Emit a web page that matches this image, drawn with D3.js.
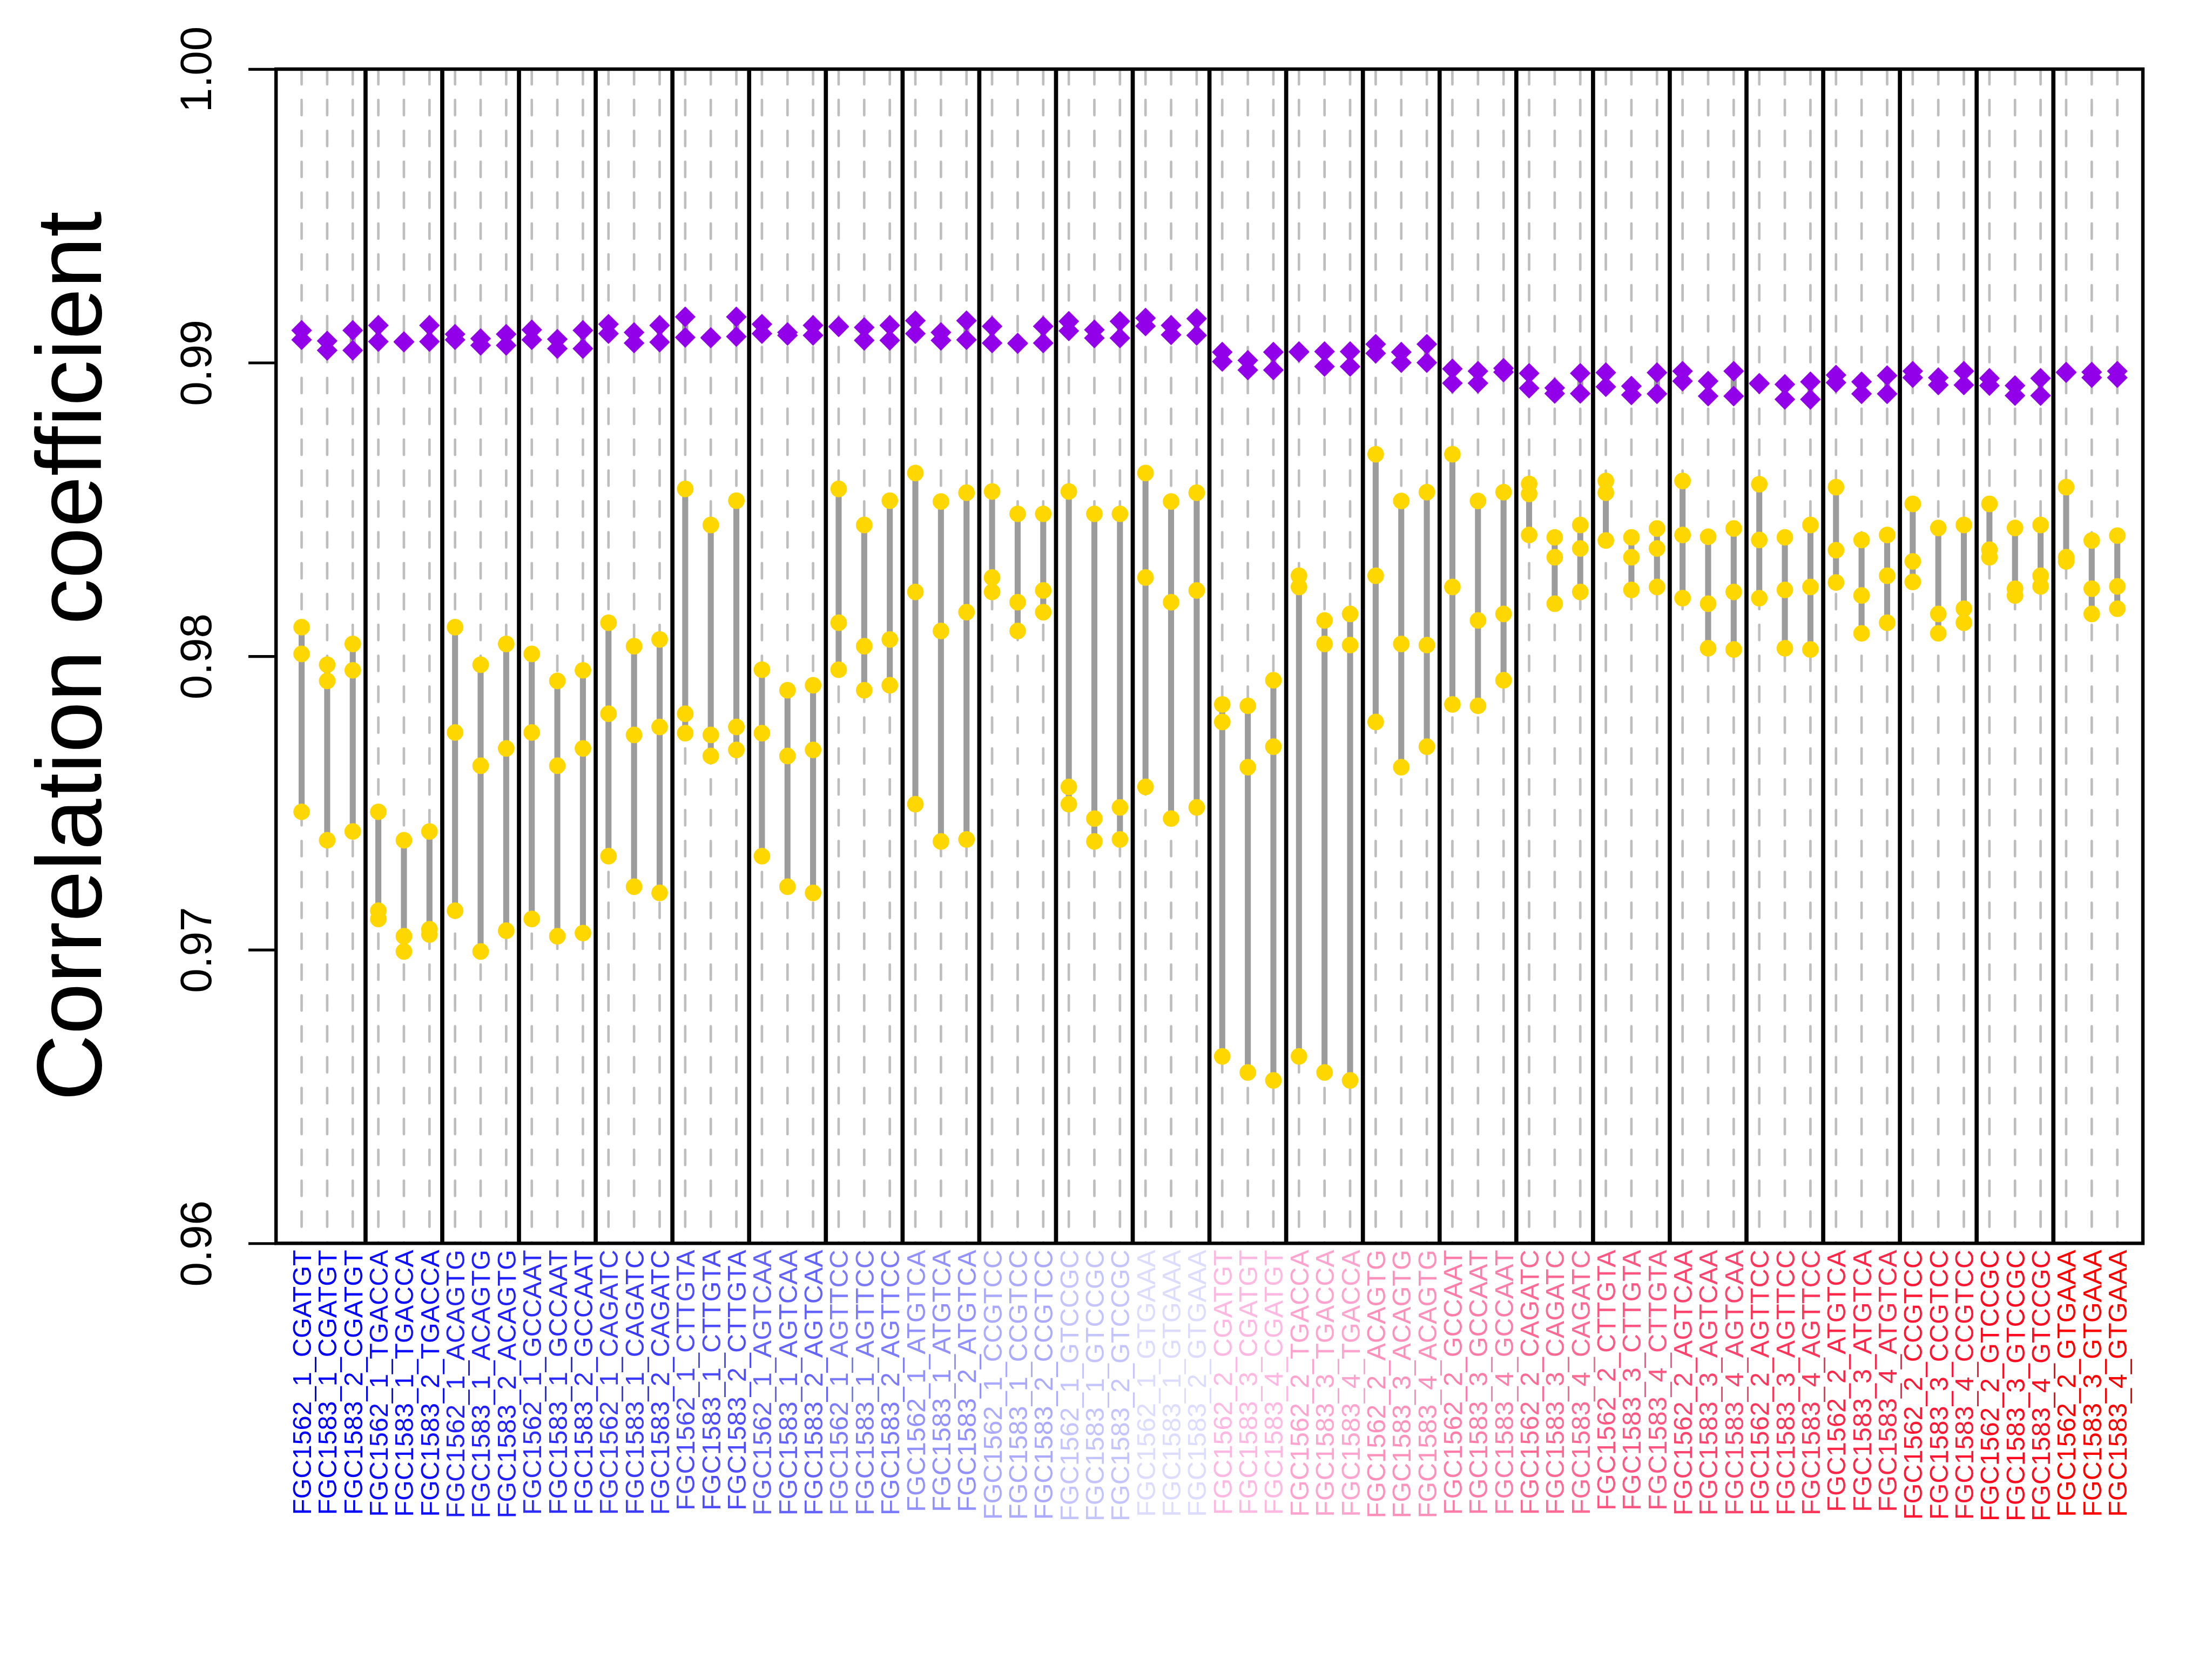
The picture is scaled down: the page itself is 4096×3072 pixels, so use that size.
<!DOCTYPE html>
<html>
<head>
<meta charset="utf-8">
<script src="https://cdn.jsdelivr.net/npm/d3@7"></script>
<style>
  html, body { margin: 0; padding: 0; background: #ffffff; }
  svg { display: block; }
</style>
</head>
<body>
<script>
// ---------------- DATA ----------------
const barcodes = ["CGATGT","TGACCA","ACAGTG","GCCAAT","CAGATC","CTTGTA",
                  "AGTCAA","AGTTCC","ATGTCA","CCGTCC","GTCCGC","GTGAAA"];
const samplesSet1 = ["FGC1562_1","FGC1583_1","FGC1583_2"];
const samplesSet2 = ["FGC1562_2","FGC1583_3","FGC1583_4"];

const groupColors = ["#0000FF","#0D0DFF","#1F1FFF","#2C2CFF","#3B3BFF","#4D4DFF",
                     "#6363FF","#7B7BFF","#9191FF","#AAAAFF","#C4C4FF","#DCDCFF",
                     "#FFB8E2","#FFA3CF","#FF90BC","#FF7DA8","#FF6A95","#FF5782",
                     "#FF456E","#FF365A","#FF2747","#FF1833","#FF0A1F","#FF0000"];

const yTicks = [0.96, 0.97, 0.98, 0.99, 1.00];

// purple diamonds (two values per column)
const purpleHi = [0.99110,0.99074,0.99110,0.99127,0.99072,0.99127,0.99097,0.99082,0.99097,0.99112,0.99080,0.99110,
                  0.99131,0.99103,0.99127,0.99156,0.99086,0.99156,0.99131,0.99103,0.99127,0.99124,0.99120,0.99127,
                  0.99143,0.99103,0.99143,0.99124,0.99067,0.99124,0.99141,0.99112,0.99141,0.99152,0.99127,0.99150,
                  0.99036,0.99008,0.99036,0.99038,0.99038,0.99038,0.99063,0.99036,0.99063,0.98979,0.98971,0.98981,
                  0.98964,0.98914,0.98964,0.98966,0.98920,0.98966,0.98971,0.98937,0.98971,0.98930,0.98926,0.98935,
                  0.98958,0.98935,0.98956,0.98971,0.98949,0.98971,0.98947,0.98922,0.98947,0.98968,0.98968,0.98971];
const purpleLo = [0.99078,0.99042,0.99042,0.99072,0.99070,0.99072,0.99078,0.99059,0.99059,0.99078,0.99048,0.99048,
                  0.99099,0.99067,0.99070,0.99086,0.99084,0.99089,0.99099,0.99093,0.99093,0.99122,0.99076,0.99076,
                  0.99099,0.99076,0.99078,0.99067,0.99065,0.99067,0.99108,0.99084,0.99084,0.99125,0.99095,0.99093,
                  0.99004,0.98975,0.98975,0.99036,0.98987,0.98987,0.99032,0.99000,0.99000,0.98930,0.98930,0.98968,
                  0.98913,0.98895,0.98895,0.98918,0.98890,0.98894,0.98937,0.98886,0.98886,0.98928,0.98875,0.98875,
                  0.98932,0.98894,0.98894,0.98949,0.98924,0.98924,0.98922,0.98888,0.98888,0.98966,0.98949,0.98949];

// gold points (three values per column)
const goldHi = [0.98099,0.97971,0.98042,0.97470,0.97373,0.97403,0.98099,0.97971,0.98042,0.98008,0.97916,0.97952,
                0.98114,0.98034,0.98057,0.98570,0.98447,0.98530,0.97954,0.97884,0.97901,0.98570,0.98447,0.98530,
                0.98624,0.98527,0.98557,0.98561,0.98485,0.98485,0.98561,0.98485,0.98485,0.98624,0.98527,0.98557,
                0.97836,0.97831,0.97918,0.98274,0.98122,0.98144,0.98688,0.98529,0.98559,0.98688,0.98529,0.98559,
                0.98587,0.98405,0.98447,0.98597,0.98405,0.98435,0.98597,0.98407,0.98435,0.98586,0.98405,0.98447,
                0.98576,0.98396,0.98413,0.98519,0.98437,0.98447,0.98519,0.98437,0.98447,0.98576,0.98394,0.98411];
const goldMid = [0.98008,0.97916,0.97952,0.97133,0.97046,0.97070,0.97740,0.97627,0.97686,0.97740,0.97627,0.97686,
                 0.97804,0.97732,0.97759,0.97804,0.97732,0.97759,0.97738,0.97660,0.97681,0.98114,0.98034,0.98057,
                 0.98219,0.98086,0.98150,0.98268,0.98184,0.98224,0.97555,0.97447,0.97485,0.98268,0.98184,0.98224,
                 0.97776,0.97622,0.97692,0.98236,0.98042,0.98038,0.98274,0.98042,0.98038,0.98236,0.98122,0.98144,
                 0.98553,0.98337,0.98367,0.98557,0.98337,0.98367,0.98413,0.98179,0.98219,0.98396,0.98226,0.98236,
                 0.98361,0.98207,0.98274,0.98323,0.98144,0.98162,0.98363,0.98230,0.98274,0.98337,0.98230,0.98238];
const goldLo = [0.97470,0.97373,0.97403,0.97105,0.96994,0.97052,0.97133,0.96994,0.97065,0.97105,0.97046,0.97057,
                0.97319,0.97215,0.97194,0.97738,0.97660,0.97681,0.97319,0.97215,0.97194,0.97954,0.97884,0.97901,
                0.97496,0.97369,0.97376,0.98219,0.98086,0.98150,0.97496,0.97369,0.97376,0.97555,0.97447,0.97485,
                0.96637,0.96582,0.96555,0.96637,0.96582,0.96555,0.97776,0.97622,0.97692,0.97836,0.97831,0.97918,
                0.98413,0.98179,0.98219,0.98394,0.98226,0.98236,0.98198,0.98027,0.98023,0.98198,0.98027,0.98023,
                0.98251,0.98078,0.98114,0.98253,0.98078,0.98114,0.98337,0.98207,0.98238,0.98323,0.98144,0.98162];

// ---------------- BUILD ----------------
const labels = [];
const groupOf = [];
[samplesSet1, samplesSet2].forEach((set, si) => {
  barcodes.forEach((bc, bi) => {
    set.forEach(s => { labels.push(s + "_" + bc); groupOf.push(si * barcodes.length + bi); });
  });
});
const n = labels.length;
const cols = d3.range(n).map(i => ({
  idx: i + 1, label: labels[i], color: groupColors[groupOf[i]],
  pHi: purpleHi[i], pLo: purpleLo[i],
  gold: [goldHi[i], goldMid[i], goldLo[i]]
}));

const W = 4800, H = 3600;
const L = 599, R = 4650, T = 150, B = 2698;
const font = "'Liberation Sans', Arial, Helvetica, sans-serif";

const svg = d3.select("body").append("svg")
  .attr("width", 4096).attr("height", 3072)
  .attr("viewBox", `0 0 ${W} ${H}`);
svg.append("rect").attr("width", W).attr("height", H).attr("fill", "#fff");

const x = d3.scaleLinear().domain([0, n + 1]).range([L, R]);
const y = d3.scaleLinear().domain([0.96, 1.00]).range([B, T]);

svg.append("clipPath").attr("id", "plotclip")
  .append("rect").attr("x", L).attr("y", T).attr("width", R - L).attr("height", B - T);
const plot = svg.append("g").attr("clip-path", "url(#plotclip)");

// dashed guides
plot.append("g").selectAll("line").data(cols).join("line")
  .attr("x1", d => x(d.idx)).attr("x2", d => x(d.idx))
  .attr("y1", T).attr("y2", B)
  .attr("stroke", "#BEBEBE").attr("stroke-width", 5.5)
  .attr("stroke-dasharray", "33,34").attr("stroke-linecap", "round");

// group dividers
const dividers = d3.range(1, 2 * barcodes.length).map(g => g * 3 + 0.5);
plot.append("g").selectAll("line").data(dividers).join("line")
  .attr("x1", d => x(d)).attr("x2", d => x(d))
  .attr("y1", T).attr("y2", B)
  .attr("stroke", "#000").attr("stroke-width", 9);

// gold segments
plot.append("g").selectAll("line").data(cols).join("line")
  .attr("x1", d => x(d.idx)).attr("x2", d => x(d.idx))
  .attr("y1", d => y(d3.max(d.gold))).attr("y2", d => y(d3.min(d.gold)))
  .attr("stroke", "#9C9C9C").attr("stroke-width", 13);
// purple segments
plot.append("g").selectAll("line").data(cols).join("line")
  .attr("x1", d => x(d.idx)).attr("x2", d => x(d.idx))
  .attr("y1", d => y(d.pHi)).attr("y2", d => y(d.pLo))
  .attr("stroke", "#9C9C9C").attr("stroke-width", 13);

// gold points
const goldPts = cols.flatMap(d => d.gold.map(v => ({ idx: d.idx, v })));
plot.append("g").selectAll("circle").data(goldPts).join("circle")
  .attr("cx", d => x(d.idx)).attr("cy", d => y(d.v)).attr("r", 18)
  .attr("fill", "#FFD700");

// purple diamonds
const purplePts = cols.flatMap(d => [{ idx: d.idx, v: d.pHi }, { idx: d.idx, v: d.pLo }]);
const dm = 22.5;
plot.append("g").selectAll("path").data(purplePts).join("path")
  .attr("transform", d => `translate(${x(d.idx)},${y(d.v)})`)
  .attr("d", `M0,${-dm}L${dm},0L0,${dm}L${-dm},0Z`)
  .attr("fill", "#9100E8");

// box
svg.append("rect").attr("x", L).attr("y", T).attr("width", R - L).attr("height", B - T)
  .attr("fill", "none").attr("stroke", "#000").attr("stroke-width", 7.5);

// y axis
const yAxis = svg.append("g").attr("transform", `translate(${L},0)`)
  .call(d3.axisLeft(y).tickValues(yTicks).tickFormat(d3.format(".2f")).tickSize(60).tickPadding(0));
yAxis.select(".domain").remove();
yAxis.selectAll(".tick line").attr("stroke", "#000").attr("stroke-width", 6);
yAxis.selectAll(".tick text")
  .attr("x", null).attr("dy", null)
  .attr("transform", "translate(-141,0) rotate(-90)")
  .attr("text-anchor", "middle")
  .attr("font-family", font).attr("font-size", 96).attr("fill", "#000");

// y title
svg.append("text")
  .attr("transform", `translate(219,${(T + B) / 2}) rotate(-90)`)
  .attr("text-anchor", "middle")
  .attr("font-family", font).attr("font-size", 200).attr("fill", "#000")
  .text("Correlation coefficient");

// x labels
svg.append("g").selectAll("text").data(cols).join("text")
  .attr("transform", d => `translate(${x(d.idx)},2712) rotate(-90)`)
  .attr("text-anchor", "end").attr("dy", "0.36em")
  .attr("font-family", font).attr("font-size", 57)
  .attr("fill", d => d.color)
  .text(d => d.label);
</script>
</body>
</html>
